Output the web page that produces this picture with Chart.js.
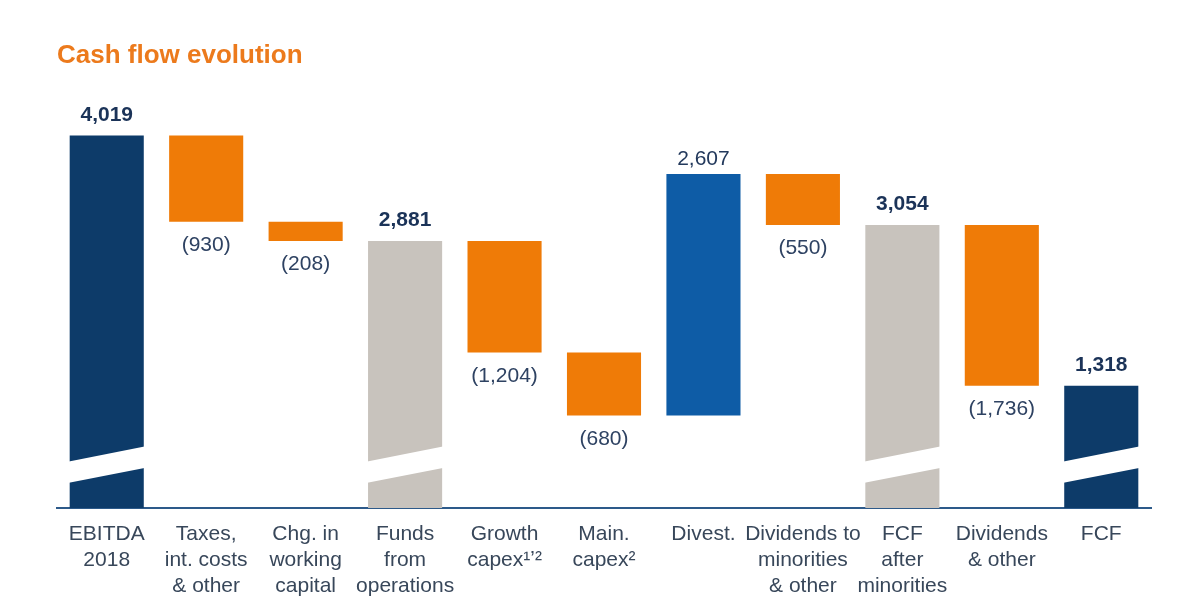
<!DOCTYPE html>
<html>
<head>
<meta charset="utf-8">
<script src="https://cdn.jsdelivr.net/npm/chart.js@4.4.1/dist/chart.umd.min.js"></script>
<style>
  html, body { margin: 0; padding: 0; background: #ffffff; }
  #wrap { width: 1190px; height: 597px; }
</style>
</head>
<body>
<div id="wrap"><canvas id="c" width="1190" height="597"></canvas></div>
<script>
// ---- data ----
const categories = [
  ["EBITDA", "2018"],
  ["Taxes,", "int. costs", "& other"],
  ["Chg. in", "working", "capital"],
  ["Funds", "from", "operations"],
  ["Growth", "capex\u00B9\u02BC\u00B2"],
  ["Main.", "capex\u00B2"],
  ["Divest."],
  ["Dividends to", "minorities", "& other"],
  ["FCF", "after", "minorities"],
  ["Dividends", "& other"],
  ["FCF"]
];
const values = [4019, -930, -208, 2881, -1204, -680, 2607, -550, 3054, -1736, 1318];
const kinds  = ["total", "delta", "delta", "total", "delta", "delta", "delta", "delta", "total", "delta", "total"];
const valueLabels = ["4,019", "(930)", "(208)", "2,881", "(1,204)", "(680)", "2,607", "(550)", "3,054", "(1,736)", "1,318"];

// ---- build floating bars ----
const colTotalEnd = "#0D3B69", colSubtotal = "#C8C3BD", colNeg = "#EF7B07", colPos = "#0E5CA6";
let running = 0;
const ranges = values.map((v, i) => {
  if (kinds[i] === "total") { running = v; return [0, v]; }
  const s = running; running = s + v; return [s, running];
});
const barColors = values.map((v, i) => {
  if (kinds[i] === "total") return (i === 0 || i === values.length - 1) ? colTotalEnd : colSubtotal;
  return v < 0 ? colNeg : colPos;
});

const FONT = "'Liberation Sans', Arial, sans-serif";

const breakPlugin = {
  id: "breaks",
  afterDatasetsDraw(chart) {
    const meta = chart.getDatasetMeta(0);
    const y = chart.scales.y;
    const ctx = chart.ctx;
    ctx.save();
    ctx.fillStyle = "#ffffff";
    meta.data.forEach((el, i) => {
      if (kinds[i] !== "total") return;
      const half = el.width / 2;
      const xl = el.x - half - 2, xr = el.x + half + 2;
      ctx.beginPath();
      ctx.moveTo(xl, y.getPixelForValue(500));
      ctx.lineTo(xr, y.getPixelForValue(665));
      ctx.lineTo(xr, y.getPixelForValue(435));
      ctx.lineTo(xl, y.getPixelForValue(270));
      ctx.closePath();
      ctx.fill();
    });
    ctx.restore();
  }
};

const labelPlugin = {
  id: "valueLabels",
  afterDatasetsDraw(chart) {
    const meta = chart.getDatasetMeta(0);
    const ctx = chart.ctx;
    ctx.save();
    ctx.textAlign = "center";
    meta.data.forEach((el, i) => {
      const top = Math.min(el.y, el.base), bottom = Math.max(el.y, el.base);
      if (values[i] >= 0) {
        const bold = kinds[i] === "total";
        ctx.font = (bold ? "bold " : "") + "21px " + FONT;
        ctx.fillStyle = bold ? "#1B3358" : "#23395C";
        ctx.textBaseline = "alphabetic";
        ctx.fillText(valueLabels[i], el.x, top - (bold ? 15 : 9));
      } else {
        ctx.font = "21px " + FONT;
        ctx.fillStyle = "#2E4262";
        ctx.textBaseline = "top";
        ctx.fillText(valueLabels[i], el.x, bottom + 13);
      }
    });
    ctx.restore();
  }
};

new Chart(document.getElementById("c"), {
  type: "bar",
  data: {
    labels: categories,
    datasets: [{
      data: ranges,
      backgroundColor: barColors,
      borderWidth: 0,
      categoryPercentage: 1.0,
      barPercentage: 0.745
    }]
  },
  options: {
    responsive: false,
    animation: false,
    events: [],
    layout: { padding: { left: 57, right: 39, top: 40, bottom: 0 } },
    plugins: {
      legend: { display: false },
      tooltip: { enabled: false },
      title: {
        display: true,
        text: "Cash flow evolution",
        align: "start",
        color: "#EC7A1C",
        font: { family: FONT, size: 26, weight: "bold" },
        padding: { top: 0, bottom: 29 }
      }
    },
    scales: {
      x: {
        grid: { display: false, drawTicks: false },
        border: { display: true, color: "#2D5A8A", width: 2 },
        ticks: {
          autoSkip: false,
          maxRotation: 0,
          minRotation: 0,
          padding: 13,
          color: "#38475A",
          font: { family: FONT, size: 21, lineHeight: 1.24 }
        },
        afterFit(scale) { scale.height = 89; }
      },
      y: {
        display: false,
        min: 0,
        max: 4400
      }
    }
  },
  plugins: [breakPlugin, labelPlugin]
});
</script>
</body>
</html>
